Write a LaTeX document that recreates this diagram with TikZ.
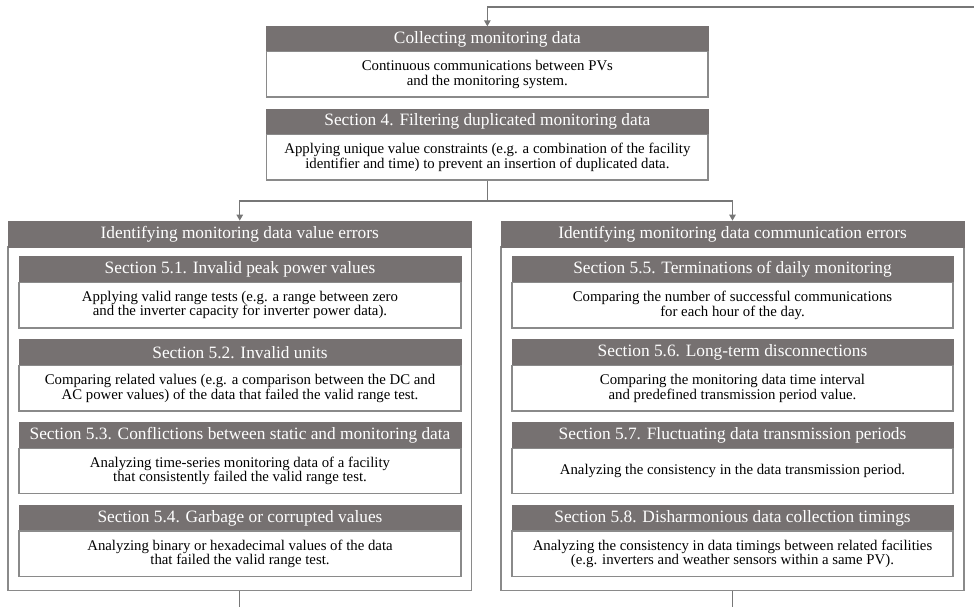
\documentclass[tikz,border=0pt]{standalone}
\usepackage{fontspec}
\setmainfont{Liberation Serif}
\usetikzlibrary{arrows.meta}
\definecolor{hdrgray}{HTML}{767171}
\definecolor{bordergray}{HTML}{8A8A8A}
\definecolor{conngray}{HTML}{777777}
\newcommand{\hdrfont}{\fontsize{13pt}{14pt}\selectfont}
\newcommand{\bodyfont}{\fontsize{11.1pt}{10.9pt}\selectfont}
\tikzset{
  hdr/.style={fill=hdrgray, draw=hdrgray, line width=0.5pt, text=white, font=\hdrfont, align=center, inner sep=0pt},
  bodybox/.style={draw=bordergray, line width=0.9pt, fill=white, align=center, font=\bodyfont, inner sep=0pt},
  panel/.style={draw=bordergray, line width=0.9pt, fill=white, inner sep=0pt},
  conn/.style={draw=conngray, line width=1pt},
  arr/.style={conn, -{Triangle[length=4.5pt,width=4.8pt]}}
}
% name, style, x1, y1, x2, y2, text  (pixel units)
\newcommand{\mkbox}[7]{%
  \pgfmathsetmacro{\mkbw}{(#5-#3)*0.75}%
  \pgfmathsetmacro{\mkbh}{(#6-#4)*0.75}%
  \node[#2, minimum width=\mkbw pt, minimum height=\mkbh pt, anchor=center] (#1) at ({(#3+#5)/2},{(#4+#6)/2}) {#7};}
\begin{document}
\begin{tikzpicture}[x=0.75pt,y=-0.75pt]
\useasboundingbox (0,0) rectangle (974,607);
% top boxes
\mkbox{c1h}{hdr}{266.7}{26.7}{708}{51.7}{Collecting monitoring data}
\mkbox{c1b}{bodybox}{266.7}{51.7}{708}{97}{Continuous communications between PVs\\and the monitoring system.}
\mkbox{s4h}{hdr}{266.7}{109}{708}{134.5}{Section 4. Filtering duplicated monitoring data}
\mkbox{s4b}{bodybox}{266.7}{134.5}{708}{180}{Applying unique value constraints (e.g. a combination of the facility\\identifier and time) to prevent an insertion of duplicated data.}
% left panel
\mkbox{Lb}{panel}{8}{247}{471.5}{590.7}{}
\mkbox{Lh}{hdr}{8}{221}{471.5}{247}{Identifying monitoring data value errors}
\mkbox{a1h}{hdr}{19}{256}{461}{282.3}{Section 5.1. Invalid peak power values}
\mkbox{a1b}{bodybox}{19}{282.3}{461}{328}{Applying valid range tests (e.g. a range between zero\\and the inverter capacity for inverter power data).}
\mkbox{a2h}{hdr}{19}{339.3}{461}{365.7}{Section 5.2. Invalid units}
\mkbox{a2b}{bodybox}{19}{365.7}{461}{411}{Comparing related values (e.g. a comparison between the DC and\\AC power values) of the data that failed the valid range test.}
\mkbox{a3h}{hdr}{19}{422.7}{461}{448.3}{Section 5.3. Conflictions between static and monitoring data}
\mkbox{a3b}{bodybox}{19}{448.3}{461}{493.3}{Analyzing time-series monitoring data of a facility\\that consistently failed the valid range test.}
\mkbox{a4h}{hdr}{19}{505.7}{461}{531}{Section 5.4. Garbage or corrupted values}
\mkbox{a4b}{bodybox}{19}{531}{461}{576.7}{Analyzing binary or hexadecimal values of the data\\that failed the valid range test.}
% right panel
\mkbox{Rb}{panel}{501}{247}{964}{590.7}{}
\mkbox{Rh}{hdr}{501}{221}{964}{247}{Identifying monitoring data communication errors}
\mkbox{b1h}{hdr}{512}{256}{953}{282.3}{Section 5.5. Terminations of daily monitoring}
\mkbox{b1b}{bodybox}{512}{282.3}{953}{328}{Comparing the number of successful communications\\for each hour of the day.}
\mkbox{b2h}{hdr}{512}{339.3}{953}{365.7}{Section 5.6. Long-term disconnections}
\mkbox{b2b}{bodybox}{512}{365.7}{953}{411}{Comparing the monitoring data time interval\\and predefined transmission period value.}
\mkbox{b3h}{hdr}{512}{422.7}{953}{448.3}{Section 5.7. Fluctuating data transmission periods}
\mkbox{b3b}{bodybox}{512}{448.3}{953}{493.3}{Analyzing the consistency in the data transmission period.}
\mkbox{b4h}{hdr}{512}{505.7}{953}{531}{Section 5.8. Disharmonious data collection timings}
\mkbox{b4b}{bodybox}{512}{531}{953}{576.7}{Analyzing the consistency in data timings between related facilities\\(e.g. inverters and weather sensors within a same PV).}
% connectors
\coordinate (loopR) at (974,7);
\coordinate (branch) at (487.35,201);
\coordinate (bottom) at (0,607);
\draw[arr] (loopR) -| (c1h.north);
\draw[conn] (s4b.south) -- (s4b.south |- branch);
\draw[arr] (s4b.south |- branch) -| (Lh.north);
\draw[arr] (s4b.south |- branch) -| (Rh.north);
\draw[conn] (Lb.south) -- (Lb.south |- bottom);
\draw[conn] (Rb.south) -- (Rb.south |- bottom);
\end{tikzpicture}
\end{document}
